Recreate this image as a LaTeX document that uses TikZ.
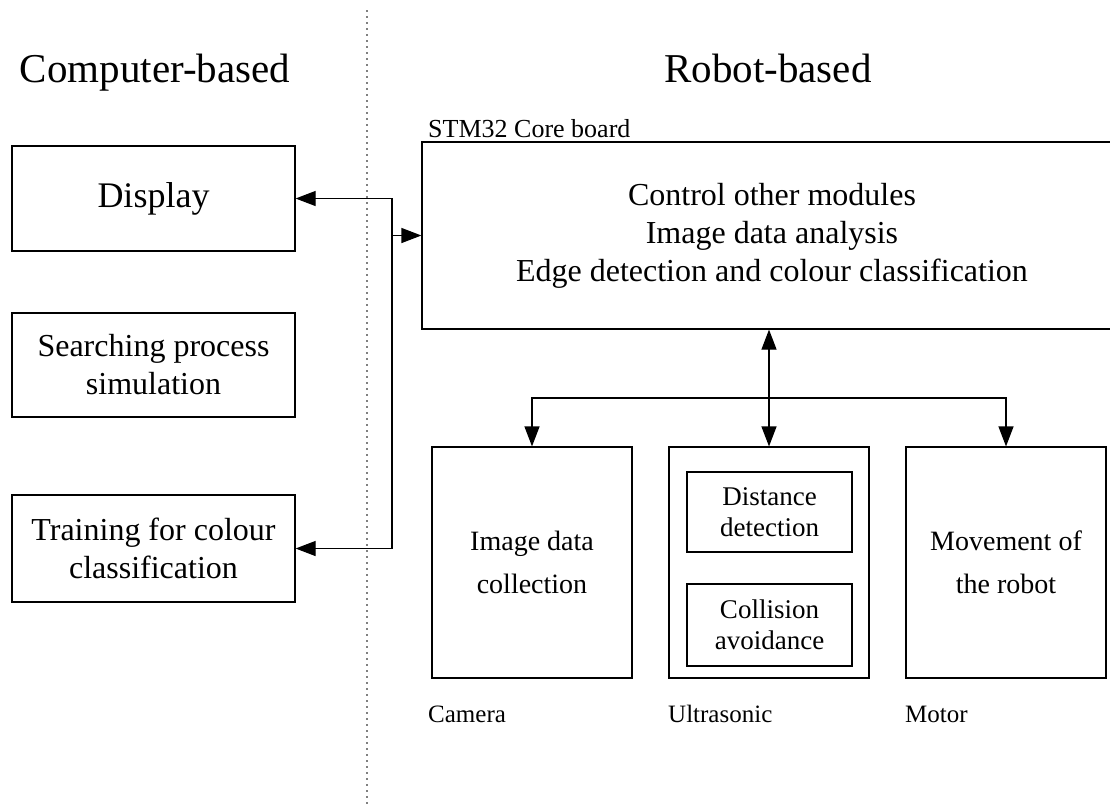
\documentclass[tikz,border=0pt]{standalone}
\usepackage{fontspec}
\setmainfont{Liberation Serif}
\usetikzlibrary{arrows.meta}
\begin{document}
\begin{tikzpicture}[x=1pt,y=-1pt,
  box/.style={draw, line width=1.2pt, inner sep=0pt, align=center},
  conn/.style={line width=1.2pt},
  >={Triangle[length=20pt,width=15pt]},
  title/.style={font=\fontsize{41}{48}\selectfont, anchor=base},
  big/.style={font=\fontsize{32}{38}\selectfont},
  mid/.style={font=\fontsize{28}{43}\selectfont},
  small/.style={font=\fontsize{27}{31}\selectfont},
  tag/.style={font=\fontsize{25}{30}\selectfont, anchor=base west, inner sep=0pt}]
\clip (0,0) rectangle (1110,807);

% dividing line between the two halves
\draw[gray, line width=1.6pt, dash pattern=on 1.6pt off 4.4pt] (367,10) -- (367,807);

% column titles
\node[title] (tcomp) at (155,82) {Computer-based};
\node[title] (trobot) at (768,82) {Robot-based};

% computer-based modules
\node[box, minimum width=283pt, minimum height=105pt,
      font=\fontsize{36}{42}\selectfont] (display) at (153.5,198.5) {Display};
\node[box, big, minimum width=283pt, minimum height=104pt] (search) at (153.5,365)
  {Searching process\\simulation};
\node[box, big, minimum width=283pt, minimum height=107pt] (training) at (153.5,548.5)
  {Training for colour\\classification};

% core board
\node[tag, font=\fontsize{26}{30}\selectfont] (stmlabel) at (428,137) {STM32 Core board};
\node[box, big, minimum width=700pt, minimum height=187pt] (stm) at (772,235.5)
  {Control other modules\\Image data analysis\\Edge detection and colour classification};

% peripheral modules
\node[box, mid, minimum width=200pt, minimum height=231pt] (camera) at (532,562.5)
  {Image data\\collection};
\node[box, minimum width=200pt, minimum height=231pt] (ultra) at (769,562.5) {};
\node[box, small, minimum width=165pt, minimum height=80pt] (dist) at (769.5,512)
  {Distance\\detection};
\node[box, small, minimum width=165pt, minimum height=82pt] (coll) at (769.5,625)
  {Collision\\avoidance};
\node[box, mid, minimum width=200pt, minimum height=231pt] (motor) at (1006,562.5)
  {Movement of\\the robot};

\node[tag] (lcam) at (428,722) {Camera};
\node[tag] (lultra) at (668,722) {Ultrasonic};
\node[tag] (lmotor) at (905,722) {Motor};

% links between computer and core board
\coordinate (j1) at (392,198.5);
\coordinate (j2) at (392,548.5);
\coordinate (jm) at (392,235.5);
\draw[conn,<->] (display.east) -- (j1) -- (j2) -- (training.east);
\draw[conn,->] (jm) -- (stm.west);

% links between core board and peripherals
\coordinate (hb) at (769,398);
\draw[conn,<->] (ultra.north |- stm.south) -- (ultra.north);
\draw[conn,<->] (camera.north) -- (camera.north |- hb) -- (motor.north |- hb) -- (motor.north);
\end{tikzpicture}
\end{document}
